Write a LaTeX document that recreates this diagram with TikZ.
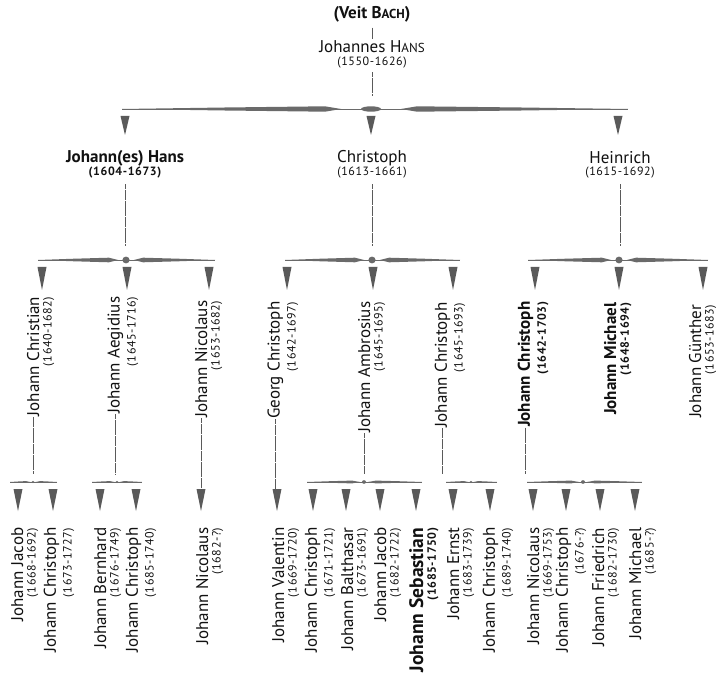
\documentclass[tikz,border=0pt]{standalone}
\usepackage{fontspec}
\setmainfont{PT Sans}
\newfontfamily\datefont[LetterSpace=5]{PT Sans}
\definecolor{txt}{HTML}{111111}
\definecolor{lcol}{HTML}{5A5A5A}
\definecolor{barcol}{HTML}{6A6A6A}
\definecolor{tricol}{HTML}{5A5A5A}
\tikzset{
  nm/.style={font=\fontsize{17}{19}\selectfont, text=txt, inner sep=0.5pt},
  nmb/.style={font=\bfseries\fontsize{17}{19}\selectfont, text=txt, inner sep=0.5pt},
  dt/.style={font=\datefont\fontsize{12}{14}\selectfont, text=txt, inner sep=0.5pt},
  dtb/.style={font=\datefont\bfseries\fontsize{12}{14}\selectfont, text=txt, inner sep=0.5pt},
  rot/.style={rotate=90},
  conn/.style={draw=lcol, line width=0.7pt, dash pattern=on 5pt off 0.4pt},
}
\newcommand\Tri[3]{\fill[tricol] ({#1-4.5},#2) -- ({#1+4.5},#2) -- (#1,#3) -- cycle;}
\newcommand\OrnBar[9]{%
  \draw[barcol, line width=0.6pt] (#1,#4) -- (#2,#4);
  \fill[barcol] (#1,#4) -- ({(#1+#3-#7)/2},{#4-0.55*#5}) -- ({#3-#7},{#4-#5}) -- ({#3-#6},#4)
     -- ({#3-#7},{#4+#5}) -- ({(#1+#3-#7)/2},{#4+0.55*#5}) -- cycle;
  \fill[barcol] (#2,#4) -- ({(#2+#3+#7)/2},{#4-0.55*#5}) -- ({#3+#7},{#4-#5}) -- ({#3+#6},#4)
     -- ({#3+#7},{#4+#5}) -- ({(#2+#3+#7)/2},{#4+0.55*#5}) -- cycle;
  \fill[barcol] (#3,#4) ellipse [x radius=#8pt, y radius=#9pt];
}
% rotated person: id, x, ytop, name, dates, name style, date style
\newcommand\RPerson[7]{%
  \node[#6, rot, anchor=south east] (#1) at ({#2-1},#3) {#4};
  \node[#7, rot, anchor=north east] (#1d) at ({#2+1.5},#3) {#5};
}
\begin{document}
\begin{tikzpicture}[x=1pt,y=-1pt]
\useasboundingbox (0,0) rectangle (716,682);
\fill[white] (0,0) rectangle (716,682);

% ---- generation 0/1
\node[nmb] (veit) at (372,14) {(Veit B{\fontsize{13}{15}\selectfont ACH})};
\node[nm] (jh) at (372,47) {Johannes H{\fontsize{13}{15}\selectfont ANS}};
\node[dt] (jhd) at (372,63) {(1550-1626)};
\draw[conn, shorten <=5pt, shorten >=1pt] (veit.south) -- (jh.north);
\coordinate (b1top) at (372,96);
\draw[conn, shorten <=3pt] (jhd.south) -- (b1top);
\OrnBar{122}{628}{371}{109}{2.7}{30}{46}{10}{2.7}
\Tri{125}{116}{135}\Tri{371}{116}{135}\Tri{618}{116}{135}

% ---- generation 2
\node[nmb] (g2a) at (125,158) {Johann(es) Hans};
\node[dtb] (g2ad) at (125,173) {(1604-1673)};
\node[nm] (g2b) at (372,158) {Christoph};
\node[dt] (g2bd) at (372,173) {(1613-1661)};
\node[nm] (g2c) at (620,158) {Heinrich};
\node[dt] (g2cd) at (620,173) {(1615-1692)};
\coordinate (b2a) at (125,246);
\coordinate (b2b) at (372,246);
\coordinate (b2c) at (620,246);
\draw[conn, shorten <=5pt] (g2ad.south) -- (b2a);
\draw[conn, shorten <=5pt] (g2bd.south) -- (b2b);
\draw[conn, shorten <=5pt] (g2cd.south) -- (b2c);
\OrnBar{38}{215}{126}{260}{2.3}{8}{17}{3.6}{3.4}
\OrnBar{285}{460}{372}{260}{2.3}{8}{17}{3.6}{3.4}
\OrnBar{528}{708}{619}{260}{2.3}{8}{17}{3.6}{3.4}
\Tri{42}{267}{290}\Tri{127}{267}{290}\Tri{209}{267}{290}
\Tri{287}{267}{290}\Tri{373}{267}{290}\Tri{453}{267}{290}
\Tri{535}{267}{290}\Tri{619}{267}{290}\Tri{703}{267}{290}

% ---- generation 3
\RPerson{c1}{41}{296}{Johann Christian}{(1640-1682)}{nm}{dt}
\RPerson{c2}{125}{296}{Johann Aegidius}{(1645-1716)}{nm}{dt}
\RPerson{c3}{209}{300}{Johann Nicolaus}{(1653-1682)}{nm}{dt}
\RPerson{c4}{285}{301}{Georg Christoph}{(1642-1697)}{nm}{dt}
\RPerson{c5}{372}{301}{Johann Ambrosius}{(1645-1695)}{nm}{dt}
\RPerson{c6}{452}{302}{Johann Christoph}{(1645-1693)}{nm}{dt}
\RPerson{c7}{535}{301}{Johann Christoph}{(1642-1703)}{nmb}{dtb}
\RPerson{c8}{618}{302}{Johann Michael}{(1648-1694)}{nmb}{dtb}
\RPerson{c9}{703}{304}{Johann Günther}{(1653-1683)}{nm}{dt}

\coordinate (b3a) at (33,474);
\coordinate (b3b) at (117,474);
\coordinate (b3c) at (201,489);
\coordinate (b3d) at (277,489);
\coordinate (b3e) at (364,474);
\coordinate (b3f) at (444,474);
\coordinate (b3g) at (527,474);
\draw[conn] (c1.west) -- (c1.west |- b3a);
\draw[conn] (c2.west) -- (c2.west |- b3b);
\draw[conn] (c3.west) -- (c3.west |- b3c);
\draw[conn] (c4.west) -- (c4.west |- b3d);
\draw[conn] (c5.west) -- (c5.west |- b3e);
\draw[conn] (c6.west) -- (c6.west |- b3f);
\draw[conn] (c7.west) -- (c7.west |- b3g);

\OrnBar{10}{57}{33}{482}{0.9}{2.5}{7}{1.3}{1.2}
\OrnBar{92}{142}{117}{482}{0.9}{2.5}{7}{1.3}{1.2}
\OrnBar{307}{422}{364}{482}{1.4}{4}{12}{2}{1.8}
\OrnBar{446}{497}{471}{482}{0.9}{2.5}{7}{1.3}{1.2}
\OrnBar{527}{642}{583}{482}{1.4}{4}{12}{2}{1.8}

\Tri{18}{489}{511}\Tri{53}{489}{511}
\Tri{100}{489}{511}\Tri{136}{489}{511}
\Tri{201}{489}{511}
\Tri{277}{489}{511}
\Tri{313}{489}{511}\Tri{346}{489}{511}\Tri{380}{489}{511}\Tri{416}{489}{511}
\Tri{453}{489}{511}\Tri{490}{489}{511}
\Tri{533}{489}{511}\Tri{566}{489}{511}\Tri{600}{489}{511}\Tri{635}{489}{511}

% ---- generation 4
\RPerson{d1}{25}{527}{Johann Jacob}{(1668-1692)}{nm}{dt}
\RPerson{d2}{61}{527}{Johann Christoph}{(1673-1727)}{nm}{dt}
\RPerson{d3}{108}{527}{Johann Bernhard}{(1676-1749)}{nm}{dt}
\RPerson{d4}{143}{527}{Johann Christoph}{(1685-1740)}{nm}{dt}
\RPerson{d5}{210}{527}{Johann Nicolaus}{(1682-?)}{nm}{dt}
\RPerson{d6}{286}{527}{Johann Valentin}{(1669-1720)}{nm}{dt}
\RPerson{d7}{322}{527}{Johann Christoph}{(1671-1721)}{nm}{dt}
\RPerson{d8}{355}{527}{Johann Balthasar}{(1673-1691)}{nm}{dt}
\RPerson{d9}{388}{527}{Johann Jacob}{(1682-1722)}{nm}{dt}
\RPerson{d10}{425}{527}{\fontsize{19.5}{21}\selectfont Johann Sebastian}{(1685-1750)}{nmb}{dtb}
\RPerson{d11}{461}{527}{Johann Ernst}{(1683-1739)}{nm}{dt}
\RPerson{d12}{500}{527}{Johann Christoph}{(1689-1740)}{nm}{dt}
\RPerson{d13}{541}{527}{Johann Nicolaus}{(1669-1753)}{nm}{dt}
\RPerson{d14}{573}{527}{Johann Christoph}{(1676-?)}{nm}{dt}
\RPerson{d15}{606}{527}{Johann Friedrich}{(1682-1730)}{nm}{dt}
\RPerson{d16}{643}{527}{Johann Michael}{(1685-?)}{nm}{dt}
\end{tikzpicture}
\end{document}
